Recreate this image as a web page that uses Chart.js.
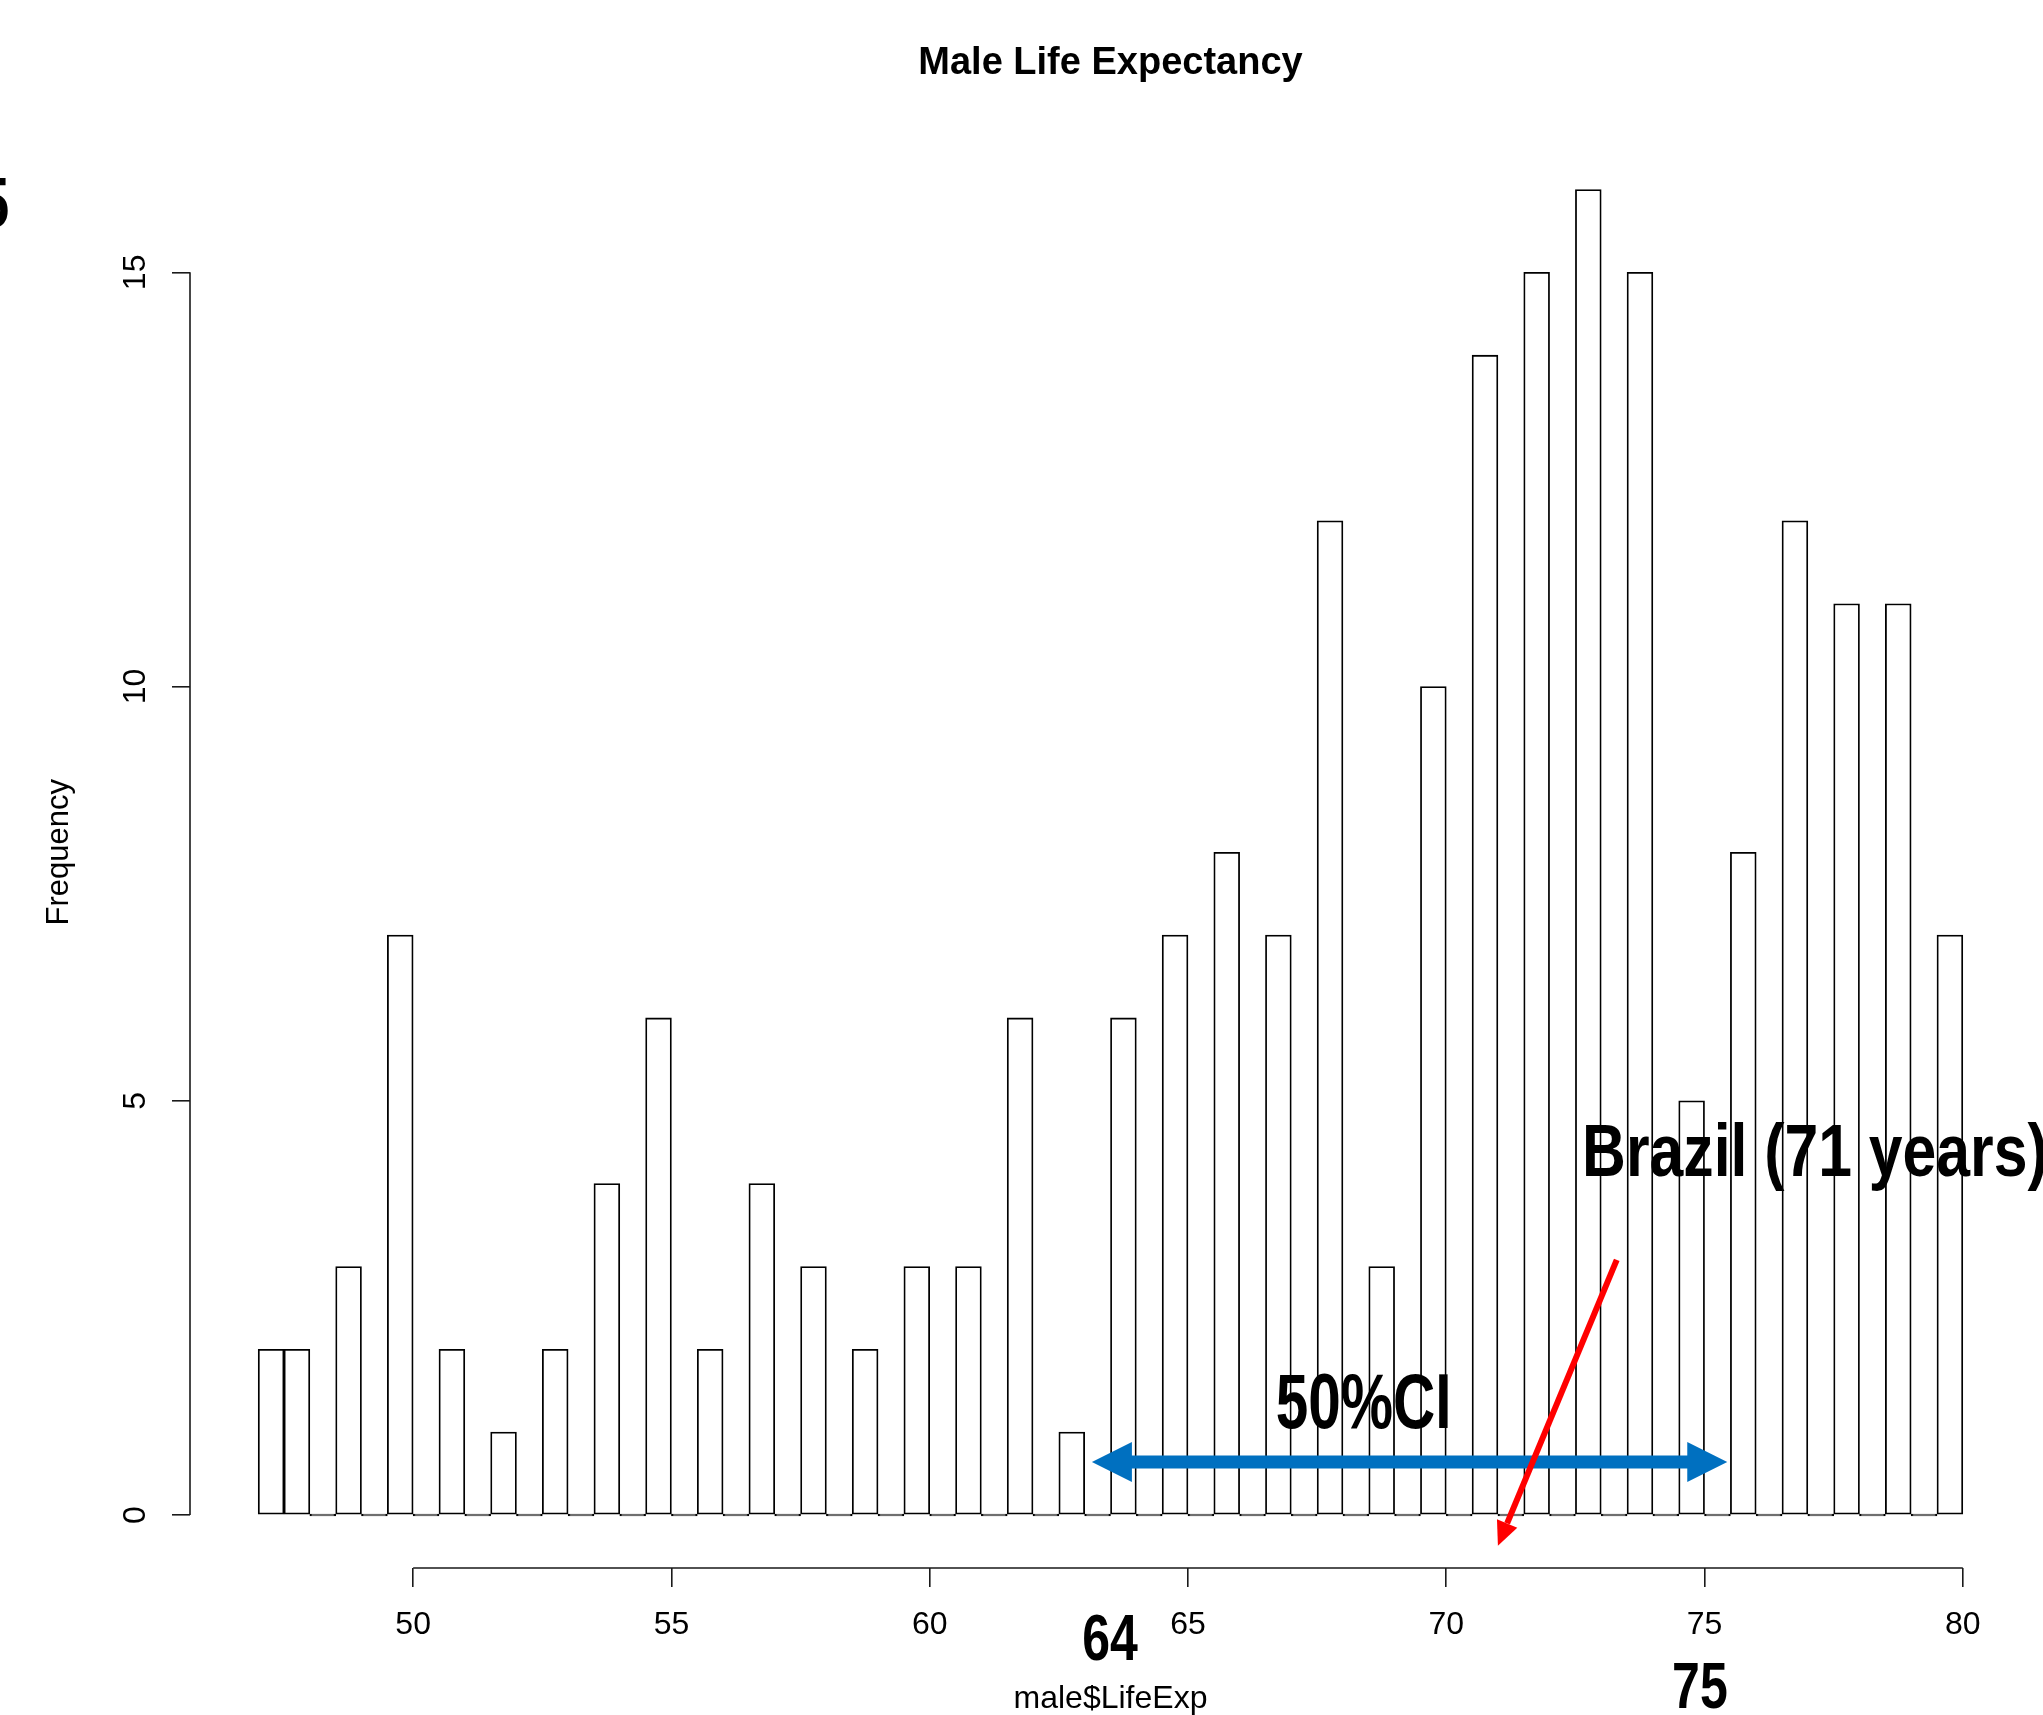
<!DOCTYPE html>
<html>
<head>
<meta charset="utf-8">
<title>Male Life Expectancy</title>
<script src="https://cdn.jsdelivr.net/npm/chart.js@4"></script>
<style>
	html, body { margin: 0; padding: 0; background: #fff; }
	canvas { display: block; }
</style>
</head>
<body>
<canvas id="chartHist" width="2043" height="1715"></canvas>
<script>
// histogram bins (left edge, width 0.5 year) and their counts
var binWidth = 0.5;
var binStart = [47, 47.5, 48, 48.5, 49, 49.5, 50, 50.5, 51, 51.5, 52, 52.5, 53, 53.5, 54, 54.5,
	55, 55.5, 56, 56.5, 57, 57.5, 58, 58.5, 59, 59.5, 60, 60.5, 61, 61.5, 62, 62.5, 63, 63.5,
	64, 64.5, 65, 65.5, 66, 66.5, 67, 67.5, 68, 68.5, 69, 69.5, 70, 70.5, 71, 71.5, 72, 72.5,
	73, 73.5, 74, 74.5, 75, 75.5, 76, 76.5, 77, 77.5, 78, 78.5, 79, 79.5];
var counts = [2, 2, 0, 3, 0, 7, 0, 2, 0, 1, 0, 2, 0, 4, 0, 6,
	0, 2, 0, 4, 0, 3, 0, 2, 0, 3, 0, 3, 0, 6, 0, 1, 0, 6,
	0, 7, 0, 8, 0, 7, 0, 12, 0, 3, 0, 10, 0, 14, 0, 15, 0, 16,
	0, 15, 0, 5, 0, 8, 0, 12, 0, 11, 0, 11, 0, 7];
var xTicks = [50, 55, 60, 65, 70, 75, 80];
var yTicks = [0, 5, 10, 15];

// slide annotations
var ciRange = [63.14, 75.44];
var ciLabels = ['64', '75'];
var brazilAge = 71;

var fontFamily = '"Liberation Sans", Arial, Helvetica, sans-serif';
Chart.defaults.font.family = fontFamily;
Chart.defaults.color = '#000';

var axisColor = '#1a1a1a';

// R style axes: lines only from first to last tick, rotated y labels, title over the plot
var rAxes = {
	id: 'rAxes',
	afterDraw: function (chart) {
		var ctx = chart.ctx, x = chart.scales.x, y = chart.scales.y, area = chart.chartArea;
		ctx.save();
		ctx.strokeStyle = axisColor;
		ctx.lineWidth = 1.6;
		ctx.beginPath();
		ctx.moveTo(x.getPixelForValue(xTicks[0]), area.bottom);
		ctx.lineTo(x.getPixelForValue(xTicks[xTicks.length - 1]), area.bottom);
		ctx.moveTo(area.left, y.getPixelForValue(yTicks[0]));
		ctx.lineTo(area.left, y.getPixelForValue(yTicks[yTicks.length - 1]));
		ctx.stroke();

		ctx.fillStyle = '#000';
		ctx.font = '32px ' + fontFamily;
		ctx.textAlign = 'center';
		ctx.textBaseline = 'alphabetic';
		yTicks.forEach(function (v) {
			ctx.save();
			ctx.translate(area.left - 45, y.getPixelForValue(v));
			ctx.rotate(-Math.PI / 2);
			ctx.fillText(String(v), 0, 0);
			ctx.restore();
		});

		ctx.font = 'bold 38px ' + fontFamily;
		ctx.fillText('Male Life Expectancy', (area.left + area.right) / 2, area.top - 63);
		ctx.restore();
	}
};

function narrowText(ctx, str, px, py, size, squeeze, align) {
	ctx.save();
	ctx.font = 'bold ' + size + 'px ' + fontFamily;
	ctx.fillStyle = '#000';
	ctx.textAlign = align;
	ctx.textBaseline = 'alphabetic';
	ctx.translate(px, py);
	ctx.scale(squeeze, 1);
	ctx.fillText(str, 0, 0);
	ctx.restore();
}

var notes = {
	id: 'notes',
	afterDraw: function (chart) {
		var ctx = chart.ctx, x = chart.scales.x, y = chart.scales.y;
		ctx.save();

		// blue double arrow for the 50% CI
		var x1 = x.getPixelForValue(ciRange[0]), x2 = x.getPixelForValue(ciRange[1]);
		var yc = y.getPixelForValue(0.64);
		var shaft = 13, headLen = 40, headHalf = 20;
		ctx.fillStyle = '#0070C0';
		ctx.beginPath();
		ctx.moveTo(x1, yc);
		ctx.lineTo(x1 + headLen, yc - headHalf);
		ctx.lineTo(x1 + headLen, yc - shaft / 2);
		ctx.lineTo(x2 - headLen, yc - shaft / 2);
		ctx.lineTo(x2 - headLen, yc - headHalf);
		ctx.lineTo(x2, yc);
		ctx.lineTo(x2 - headLen, yc + headHalf);
		ctx.lineTo(x2 - headLen, yc + shaft / 2);
		ctx.lineTo(x1 + headLen, yc + shaft / 2);
		ctx.lineTo(x1 + headLen, yc + headHalf);
		ctx.closePath();
		ctx.fill();

		// red arrow pointing at Brazil
		var sx = x.getPixelForValue(73.30), sy = y.getPixelForValue(3.08);
		var tx = x.getPixelForValue(brazilAge), ty = y.getPixelForValue(-0.37);
		var ang = Math.atan2(ty - sy, tx - sx);
		var hl = 24, hw = 11;
		var bx = tx - hl * Math.cos(ang), by = ty - hl * Math.sin(ang);
		ctx.strokeStyle = '#FF0000';
		ctx.fillStyle = '#FF0000';
		ctx.lineWidth = 6;
		ctx.beginPath();
		ctx.moveTo(sx, sy);
		ctx.lineTo(bx, by);
		ctx.stroke();
		ctx.beginPath();
		ctx.moveTo(tx, ty);
		ctx.lineTo(bx + hw * Math.sin(ang), by - hw * Math.cos(ang));
		ctx.lineTo(bx - hw * Math.sin(ang), by + hw * Math.cos(ang));
		ctx.closePath();
		ctx.fill();

		// bold condensed labels
		narrowText(ctx, 'Brazil (71 years)', x.getPixelForValue(72.63), y.getPixelForValue(4.09), 74, 0.82, 'left');
		narrowText(ctx, '50%CI', x.getPixelForValue(66.70), y.getPixelForValue(1.05), 77, 0.76, 'left');
		narrowText(ctx, ciLabels[0], x.getPixelForValue(63.49), y.getPixelForValue(-1.75), 65, 0.77, 'center');
		narrowText(ctx, ciLabels[1], x.getPixelForValue(74.91), y.getPixelForValue(-2.33), 65, 0.77, 'center');
		narrowText(ctx, '5', x.getPixelForValue(42.18), y.getPixelForValue(15.55), 70, 0.77, 'right');
		ctx.restore();
	}
};

var ctx = document.getElementById('chartHist').getContext('2d');
var chart = new Chart(ctx, {
	type: 'bar',
	data: {
		datasets: [{
			label: 'male$LifeExp',
			data: binStart.map(function (s, i) { return { x: s + binWidth / 2, y: counts[i] }; }),
			backgroundColor: '#fff',
			borderColor: '#000',
			borderWidth: 1.8,
			borderSkipped: false,
			barPercentage: 1,
			categoryPercentage: 1,
			minBarLength: 1.8
		}]
	},
	options: {
		responsive: false,
		animation: false,
		layout: { padding: { left: 0, right: 12, top: 136.5, bottom: 0 } },
		plugins: {
			legend: { display: false },
			tooltip: { enabled: false },
			title: { display: false }
		},
		scales: {
			x: {
				type: 'linear',
				offset: false,
				min: 45.68,
				max: 81.32,
				afterBuildTicks: function (s) { s.ticks = xTicks.map(function (v) { return { value: v }; }); },
				afterFit: function (s) { s.height = 147; },
				grid: { offset: false, drawOnChartArea: false, drawTicks: true, tickLength: 19, color: axisColor, lineWidth: 1.6 },
				border: { display: false },
				ticks: { color: '#000', font: { size: 32 }, padding: 19, autoSkip: false, maxRotation: 0 },
				title: { display: true, text: 'male$LifeExp', color: '#000', font: { size: 32, lineHeight: 1 }, padding: { top: 0, bottom: 0 } }
			},
			y: {
				min: -0.64,
				max: 16.64,
				afterBuildTicks: function (s) { s.ticks = yTicks.map(function (v) { return { value: v }; }); },
				afterFit: function (s) { s.width = 190; },
				grid: { drawOnChartArea: false, drawTicks: true, tickLength: 18, color: axisColor, lineWidth: 1.6 },
				border: { display: false },
				ticks: { display: false },
				title: { display: true, text: 'Frequency', color: '#000', font: { size: 31, lineHeight: 1 }, padding: { top: 44, bottom: 0 } }
			}
		}
	},
	plugins: [rAxes, notes]
});
</script>
</body>
</html>
